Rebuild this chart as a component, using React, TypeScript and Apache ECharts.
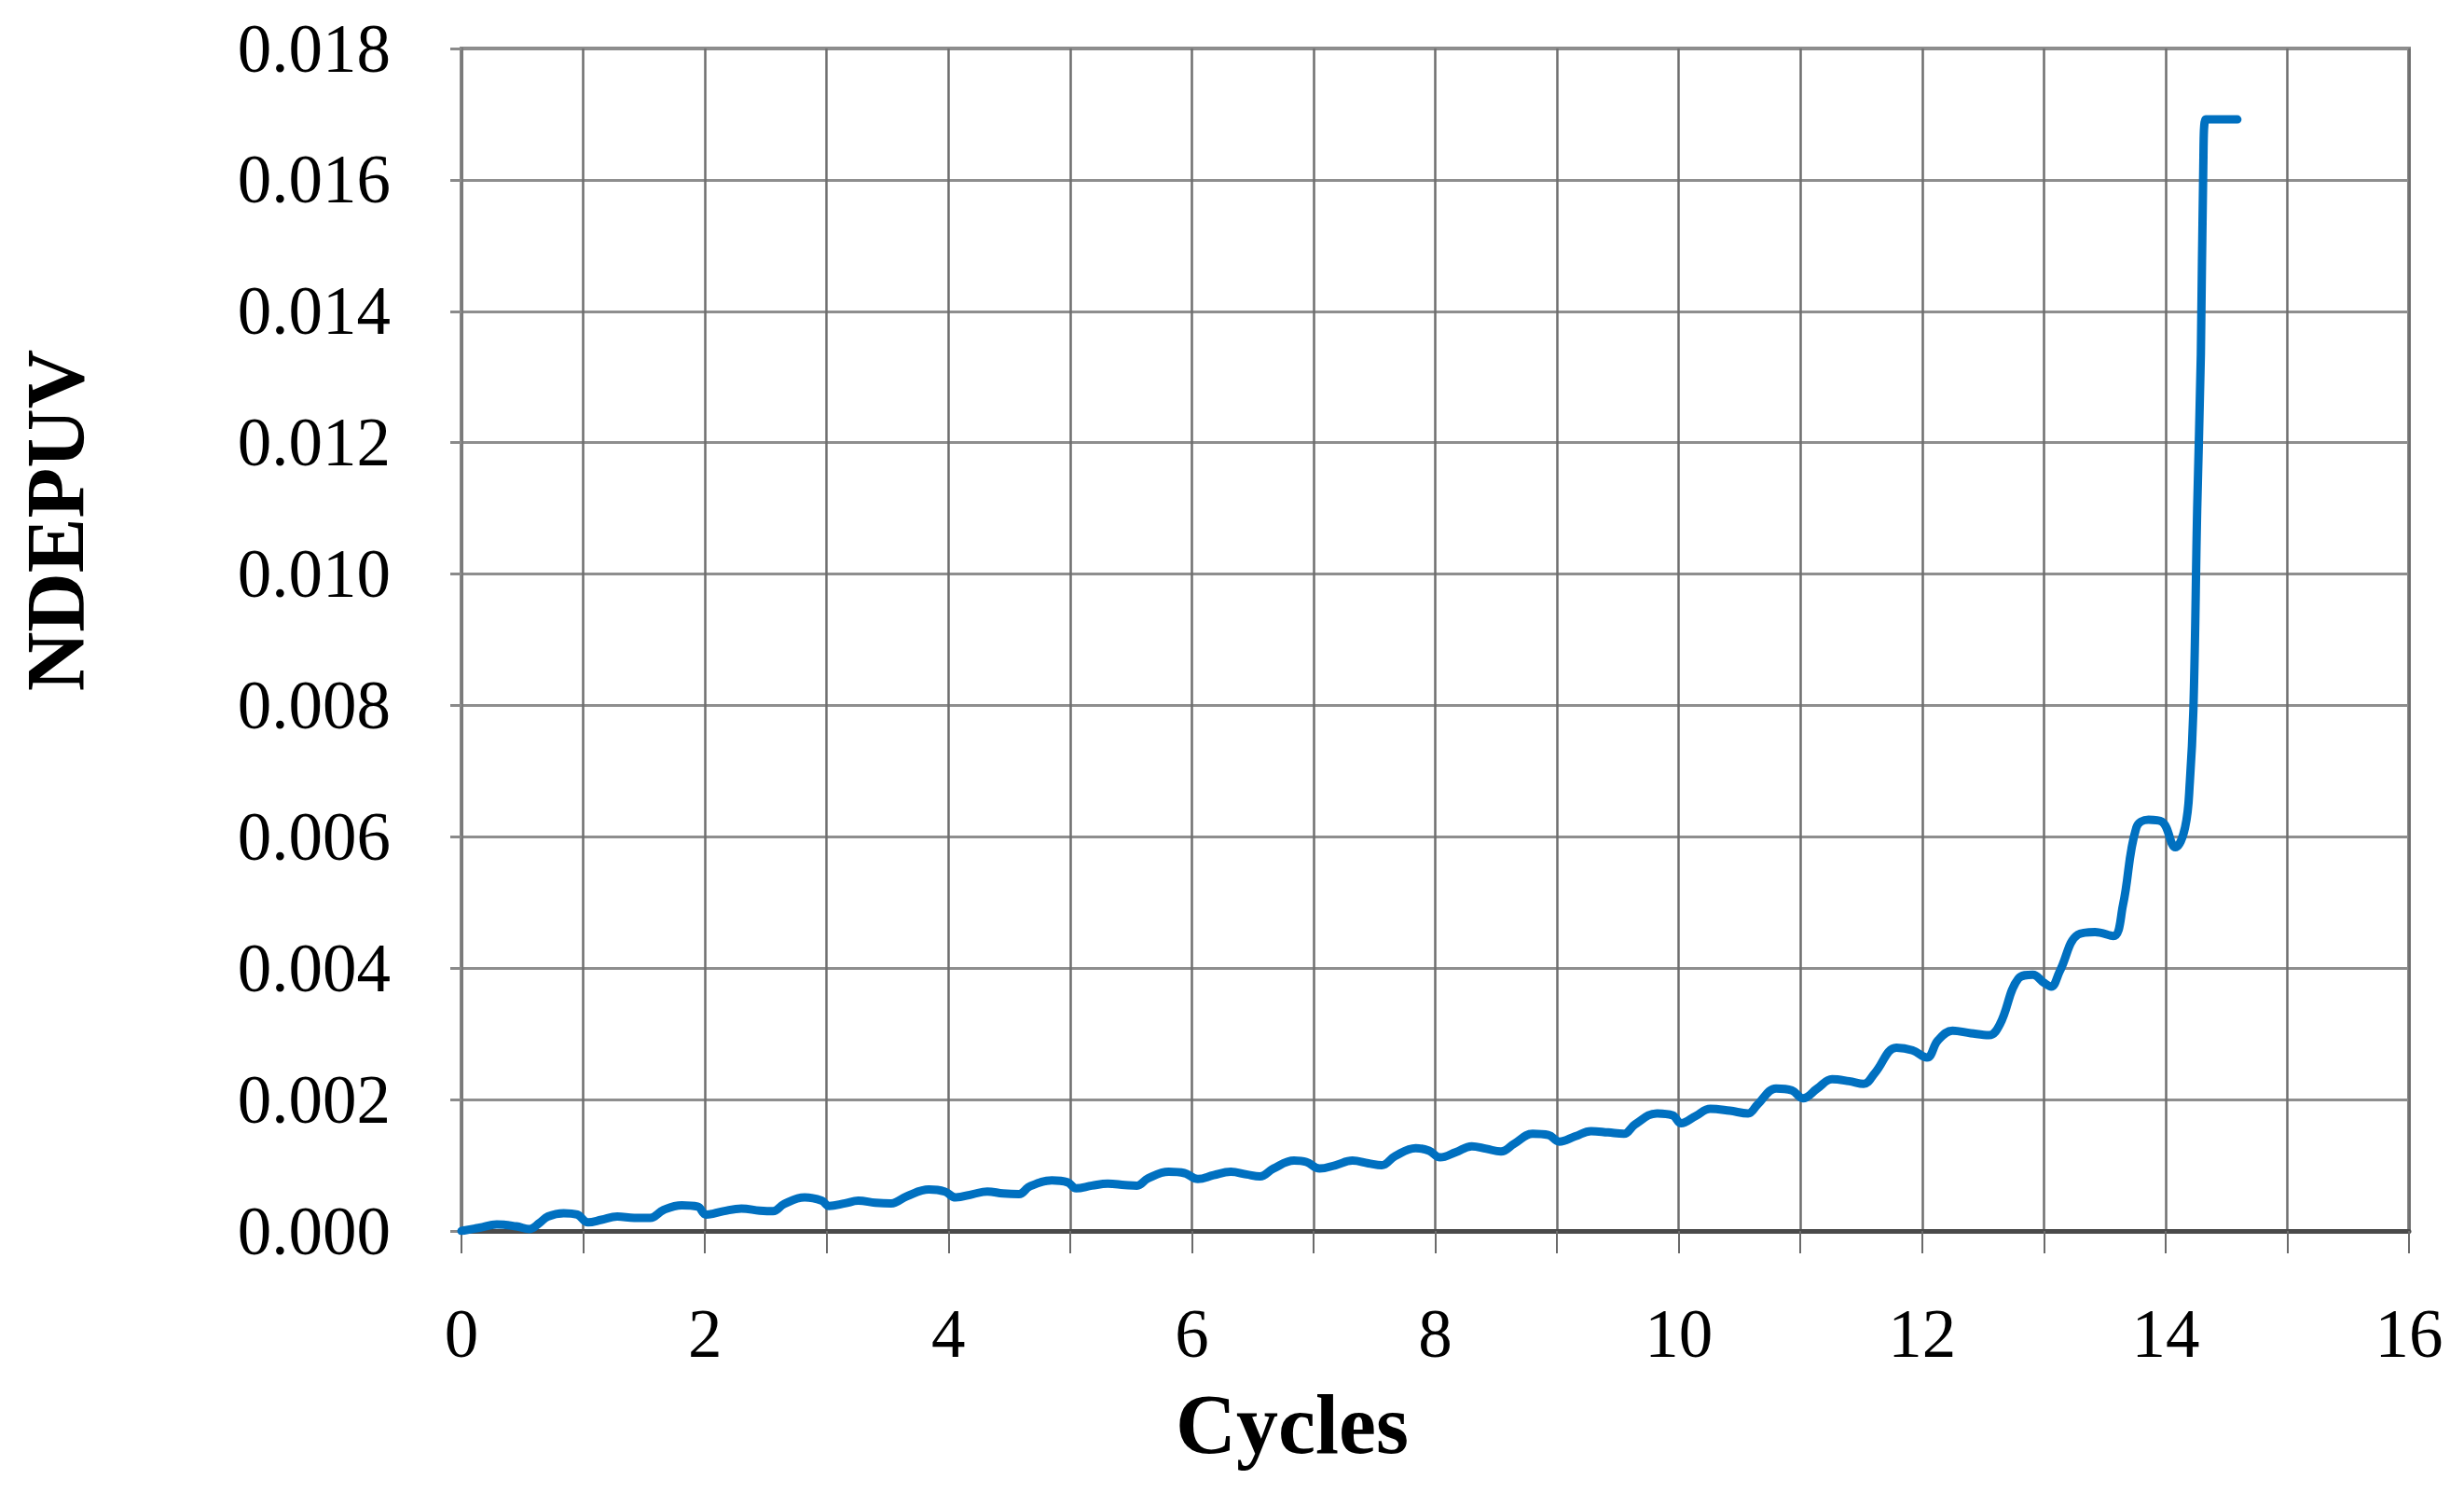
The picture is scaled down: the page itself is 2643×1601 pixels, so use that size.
import React, { useEffect, useRef } from "react";
import * as echarts from "echarts";

const cycles: number[] = [
  0, 0.15, 0.29, 0.45, 0.56, 0.64, 0.71, 0.84, 0.95, 1.04, 1.15, 1.28, 1.42, 1.55, 1.66, 1.81, 1.94,
  2.01, 2.15, 2.3, 2.45, 2.56, 2.65, 2.82, 2.96, 3.02, 3.15, 3.26, 3.4, 3.53, 3.66, 3.84, 3.97,
  4.06, 4.2, 4.32, 4.45, 4.58, 4.67, 4.85, 4.98, 5.05, 5.18, 5.31, 5.45, 5.55, 5.64, 5.81, 5.94,
  6.05, 6.18, 6.32, 6.45, 6.56, 6.67, 6.84, 6.94, 7.05, 7.18, 7.32, 7.45, 7.56, 7.67, 7.84, 7.95,
  8.04, 8.17, 8.3, 8.42, 8.54, 8.65, 8.8, 8.93, 9.02, 9.15, 9.28, 9.42, 9.55, 9.64, 9.82, 9.95,
  10.02, 10.14, 10.26, 10.42, 10.57, 10.65, 10.8, 10.93, 11.02, 11.14, 11.26, 11.4, 11.52, 11.61, 11.79, 11.92,
  12.04, 12.13, 12.25, 12.4, 12.55, 12.64, 12.79, 12.91, 13.0, 13.06, 13.13, 13.28, 13.42, 13.57, 13.65, 13.76,
  13.86, 13.97, 14.08, 14.16, 14.2, 14.23, 14.26, 14.29, 14.31, 14.33, 14.45, 14.59,
];

const ndepuv: number[] = [
  0, 0.00005, 0.0001, 0.00007, 0.00003, 0.00012, 0.00022, 0.00027, 0.00025, 0.00013, 0.00017, 0.00022, 0.0002, 0.0002, 0.00032, 0.00039, 0.00037,
  0.00025, 0.0003, 0.00034, 0.00031, 0.0003, 0.00041, 0.00051, 0.00046, 0.00038, 0.00042, 0.00046, 0.00043, 0.00042, 0.00053, 0.00063, 0.0006,
  0.00051, 0.00056, 0.0006, 0.00057, 0.00056, 0.00068, 0.00077, 0.00074, 0.00065, 0.00069, 0.00072, 0.0007, 0.00069, 0.0008, 0.0009, 0.00088,
  0.00079, 0.00085, 0.0009, 0.00086, 0.00083, 0.00095, 0.00107, 0.00105, 0.00095, 0.001, 0.00107, 0.00103, 0.001, 0.00114, 0.00126, 0.00122,
  0.00112, 0.0012, 0.00129, 0.00125, 0.00121, 0.00133, 0.00148, 0.00146, 0.00136, 0.00144, 0.00152, 0.0015, 0.00148, 0.00162, 0.00179, 0.00176,
  0.00164, 0.00175, 0.00186, 0.00183, 0.00179, 0.00193, 0.00217, 0.00214, 0.00202, 0.00217, 0.00231, 0.00228, 0.00224, 0.0024, 0.00279, 0.00275,
  0.00264, 0.0029, 0.00305, 0.00301, 0.00298, 0.00315, 0.00384, 0.0039, 0.00378, 0.00372, 0.00395, 0.00451, 0.00455, 0.00449, 0.00496, 0.00614,
  0.00626, 0.00623, 0.00584, 0.00614, 0.00685, 0.00803, 0.011, 0.01334, 0.0162, 0.01692, 0.01692, 0.01692,
];

const xTitle = "Cycles";
const yTitle = "NDEPUV";
const xMin = 0, xMax = 16, xStep = 1;
const yMin = 0, yMax = 0.018, yStep = 0.002;

const FONT = "'Liberation Serif', 'DejaVu Serif', serif";

export default function App() {
  const ref = useRef<HTMLDivElement>(null);
  useEffect(() => {
    if (!ref.current) return;
    const chart = echarts.init(ref.current, null, { renderer: "svg" });
    const data = cycles.map((c, i) => [c, ndepuv[i]]);
    chart.setOption({
      animation: false,
      backgroundColor: "#ffffff",
      grid: {
        left: 495,
        right: 59,
        top: 52,
        bottom: 281,
        show: true,
        borderColor: "#8a8a8a",
        borderWidth: 4,
      },
      xAxis: {
        type: "value",
        min: xMin,
        max: xMax,
        interval: xStep,
        axisLine: { show: true, onZero: false, lineStyle: { color: "#4a4a4a", width: 5 } },
        axisTick: { show: true, length: 24, lineStyle: { color: "#6a6a6a", width: 2 } },
        axisLabel: {
          margin: 74,
          color: "#000",
          fontFamily: FONT,
          fontSize: 73,
          formatter: (v: number) => (Math.round(v) % 2 === 0 ? String(Math.round(v)) : ""),
        },
        splitLine: { show: true, lineStyle: { color: "#6e6e6e", width: 2.5 } },
      },
      yAxis: {
        type: "value",
        min: yMin,
        max: yMax,
        interval: yStep,
        axisLine: { show: true, lineStyle: { color: "#7a7a7a", width: 3 } },
        axisTick: { show: true, length: 12, lineStyle: { color: "#8a8a8a", width: 3 } },
        axisLabel: {
          margin: 76,
          color: "#000",
          fontFamily: FONT,
          fontSize: 73,
          formatter: (v: number) => v.toFixed(3),
        },
        splitLine: { show: true, lineStyle: { color: "#8e8e8e", width: 3 } },
      },
      graphic: [
        {
          type: "text",
          x: 59,
          y: 558,
          rotation: Math.PI / 2,
          style: {
            text: yTitle,
            fill: "#000",
            font: `bold 88px ${FONT}`,
            align: "center",
            verticalAlign: "middle",
          },
        },
        {
          type: "text",
          x: 1386,
          y: 1527,
          style: {
            text: xTitle,
            fill: "#000",
            font: `bold 90px ${FONT}`,
            align: "center",
            verticalAlign: "middle",
          },
        },
      ],
      series: [
        {
          type: "line",
          data,
          showSymbol: false,
          smooth: 0.4,
          lineStyle: { color: "#0070C0", width: 9, cap: "round", join: "round" },
          z: 5,
        },
      ],
    });
    return () => chart.dispose();
  }, []);
  return (
    <div
      ref={ref}
      style={{ position: "fixed", left: 0, top: 0, width: 2643, height: 1601, background: "#fff" }}
    />
  );
}
